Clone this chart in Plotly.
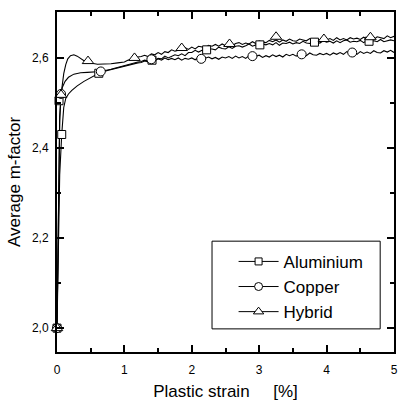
import plotly.graph_objects as go

# ---- data ----
strain_grid = [1.00, 1.05, 1.10, 1.15, 1.20, 1.25, 1.30, 1.35, 1.40, 1.45,
               1.50, 1.55, 1.60, 1.65, 1.70, 1.75, 1.80, 1.85, 1.90, 1.95,
               2.00, 2.05, 2.10, 2.15, 2.20, 2.25, 2.30, 2.35, 2.40, 2.45,
               2.50, 2.55, 2.60, 2.65, 2.70, 2.75, 2.80, 2.85, 2.90, 2.95,
               3.00, 3.05, 3.10, 3.15, 3.20, 3.25, 3.30, 3.35, 3.40, 3.45,
               3.50, 3.55, 3.60, 3.65, 3.70, 3.75, 3.80, 3.85, 3.90, 3.95,
               4.00, 4.05, 4.10, 4.15, 4.20, 4.25, 4.30, 4.35, 4.40, 4.45,
               4.50, 4.55, 4.60, 4.65, 4.70, 4.75, 4.80, 4.85, 4.90, 4.95,
               5.00]

al_early_x = [0, 0.02, 0.04, 0.07, 0.10, 0.13, 0.17, 0.22, 0.30, 0.40, 0.50, 0.62, 0.75, 0.90]
al_early_y = [2.0, 2.20, 2.34, 2.43, 2.49, 2.510, 2.520, 2.528, 2.538, 2.548, 2.557, 2.566, 2.572, 2.578]
al_y = [2.582, 2.584, 2.586, 2.587, 2.589, 2.590, 2.593, 2.591, 2.597, 2.594,
        2.599, 2.598, 2.604, 2.600, 2.604, 2.607, 2.605, 2.609, 2.605, 2.612,
        2.612, 2.617, 2.613, 2.617, 2.615, 2.620, 2.620, 2.618, 2.624, 2.621,
        2.620, 2.625, 2.621, 2.626, 2.627, 2.624, 2.627, 2.631, 2.626, 2.629,
        2.626, 2.631, 2.629, 2.632, 2.629, 2.634, 2.628, 2.633, 2.632, 2.635,
        2.631, 2.634, 2.632, 2.637, 2.633, 2.632, 2.637, 2.635, 2.633, 2.638,
        2.635, 2.637, 2.633, 2.638, 2.634, 2.638, 2.640, 2.635, 2.637, 2.636,
        2.639, 2.634, 2.639, 2.636, 2.638, 2.636, 2.641, 2.636, 2.638, 2.640,
        2.638]

cu_early_x = [0, 0.02, 0.04, 0.06, 0.08, 0.12, 0.17, 0.25, 0.35, 0.45, 0.55, 0.65, 0.80, 0.90]
cu_early_y = [2.0, 2.30, 2.47, 2.52, 2.535, 2.548, 2.557, 2.564, 2.567, 2.568, 2.569, 2.570, 2.575, 2.579]
cu_y = [2.584, 2.586, 2.588, 2.589, 2.591, 2.592, 2.595, 2.593, 2.597, 2.594,
        2.598, 2.595, 2.600, 2.596, 2.599, 2.596, 2.600, 2.595, 2.599, 2.597,
        2.600, 2.596, 2.601, 2.597, 2.599, 2.602, 2.598, 2.601, 2.597, 2.602,
        2.600, 2.603, 2.599, 2.604, 2.600, 2.603, 2.599, 2.605, 2.601, 2.603,
        2.606, 2.601, 2.605, 2.602, 2.607, 2.603, 2.606, 2.602, 2.608, 2.605,
        2.608, 2.604, 2.609, 2.607, 2.605, 2.611, 2.607, 2.606, 2.610, 2.607,
        2.610, 2.606, 2.611, 2.608, 2.612, 2.608, 2.614, 2.609, 2.612, 2.608,
        2.614, 2.610, 2.613, 2.610, 2.616, 2.612, 2.611, 2.616, 2.613, 2.617,
        2.612]

hy_early_x = [0, 0.02, 0.04, 0.06, 0.08, 0.10, 0.13, 0.16, 0.20, 0.25, 0.30, 0.35, 0.40, 0.46, 0.52, 0.60, 0.70, 0.80, 0.90]
hy_early_y = [2.0, 2.30, 2.46, 2.518, 2.545, 2.565, 2.585, 2.598, 2.605, 2.607, 2.604, 2.598, 2.594, 2.592, 2.588, 2.586, 2.586, 2.587, 2.589]
hy_y = [2.591, 2.595, 2.598, 2.600, 2.602, 2.603, 2.606, 2.603, 2.609, 2.607,
        2.612, 2.608, 2.614, 2.612, 2.618, 2.615, 2.617, 2.618, 2.623, 2.619,
        2.624, 2.620, 2.626, 2.625, 2.623, 2.628, 2.626, 2.630, 2.626, 2.631,
        2.627, 2.631, 2.627, 2.632, 2.634, 2.630, 2.633, 2.631, 2.636, 2.632,
        2.638, 2.635, 2.634, 2.639, 2.636, 2.640, 2.635, 2.640, 2.637, 2.642,
        2.638, 2.637, 2.642, 2.640, 2.638, 2.643, 2.639, 2.642, 2.638, 2.643,
        2.640, 2.643, 2.639, 2.645, 2.640, 2.643, 2.640, 2.645, 2.642, 2.644,
        2.641, 2.646, 2.642, 2.645, 2.641, 2.647, 2.645, 2.643, 2.649, 2.645,
        2.648]

al_mk_x = [0, 0.03, 0.07, 0.62, 1.41, 2.22, 3.01, 3.82, 4.63]
al_mk_y = [2.0, 2.505, 2.43, 2.566, 2.595, 2.618, 2.629, 2.635, 2.637]
cu_mk_x = [0, 0.06, 0.65, 1.40, 2.14, 2.90, 3.63, 4.38]
cu_mk_y = [2.0, 2.52, 2.570, 2.597, 2.598, 2.604, 2.608, 2.612]
hy_mk_x = [0, 0.06, 0.46, 1.15, 1.85, 2.56, 3.25, 3.96, 4.65]
hy_mk_y = [2.0, 2.518, 2.593, 2.600, 2.622, 2.631, 2.647, 2.642, 2.646]

series_names = ["Aluminium", "Copper", "Hybrid"]
x_ticks = [0, 1, 2, 3, 4, 5]
y_ticks = [2.0, 2.2, 2.4, 2.6]

FONT = "Liberation Sans, Arial, sans-serif"

series = [
    (series_names[0], al_early_x + strain_grid, al_early_y + al_y, al_mk_x, al_mk_y, "square", 8),
    (series_names[1], cu_early_x + strain_grid, cu_early_y + cu_y, cu_mk_x, cu_mk_y, "circle", 9),
    (series_names[2], hy_early_x + strain_grid, hy_early_y + hy_y, hy_mk_x, hy_mk_y, "triangle-up", 10),
]

fig = go.Figure()
for name, xs, ys, mx, my, sym, sz in series:
    fig.add_trace(go.Scatter(x=xs, y=ys, mode="lines", line=dict(color="black", width=1.1),
                             showlegend=False, hoverinfo="skip"))
for name, xs, ys, mx, my, sym, sz in series:
    fig.add_trace(go.Scatter(x=mx, y=my, mode="markers",
                             marker=dict(symbol=sym, size=sz, color="white",
                                         line=dict(color="black", width=1)),
                             showlegend=False, cliponaxis=False))
for i, (name, xs, ys, mx, my, sym, sz) in enumerate(series):
    fig.add_trace(go.Scatter(x=[None], y=[None], mode="lines+markers", name=name,
                             legendgroup=f"g{i}",
                             line=dict(color="black", width=1),
                             marker=dict(symbol=sym, size=sz - 1, color="white",
                                         line=dict(color="black", width=1))))

axis_common = dict(showline=True, linecolor="black", linewidth=2, mirror="allticks",
                   ticks="inside", ticklen=7, tickwidth=1.5, tickcolor="black",
                   showgrid=False, zeroline=False,
                   tickfont=dict(family=FONT, size=12, color="black"))

fig.update_xaxes(range=[0, 5], tickvals=x_ticks, ticklabelstandoff=6,
                 minor=dict(dtick=0.5, tick0=0, ticks="inside", ticklen=4, tickwidth=1.5, tickcolor="black"),
                 title=dict(text="Plastic strain\u00a0\u00a0\u00a0\u00a0\u00a0[%]", standoff=9,
                            font=dict(family=FONT, size=17, color="black")),
                 **axis_common)
fig.update_yaxes(range=[1.947, 2.702], tickvals=y_ticks, tickformat=".1f", ticklabelstandoff=4,
                 minor=dict(dtick=0.1, tick0=2.0, ticks="inside", ticklen=4, tickwidth=1.5, tickcolor="black"),
                 title=dict(text="Average m-factor", standoff=7,
                            font=dict(family=FONT, size=17, color="black")),
                 **axis_common)

fig.add_shape(type="rect", xref="paper", yref="paper", x0=0.460, x1=0.959, y0=0.068, y1=0.326,
              line=dict(color="black", width=1), fillcolor="rgba(0,0,0,0)")

fig.update_layout(
    width=401, height=404,
    margin=dict(l=57, r=3, t=12, b=52),
    paper_bgcolor="white", plot_bgcolor="white",
    separators=",.",
    font=dict(family=FONT, color="black"),
    legend=dict(x=0.524, y=0.318, xanchor="left", yanchor="top",
                bgcolor="rgba(0,0,0,0)", borderwidth=0,
                font=dict(family=FONT, size=17, color="black"),
                tracegroupgap=0, itemwidth=40),
)

fig.write_html("out.html")
